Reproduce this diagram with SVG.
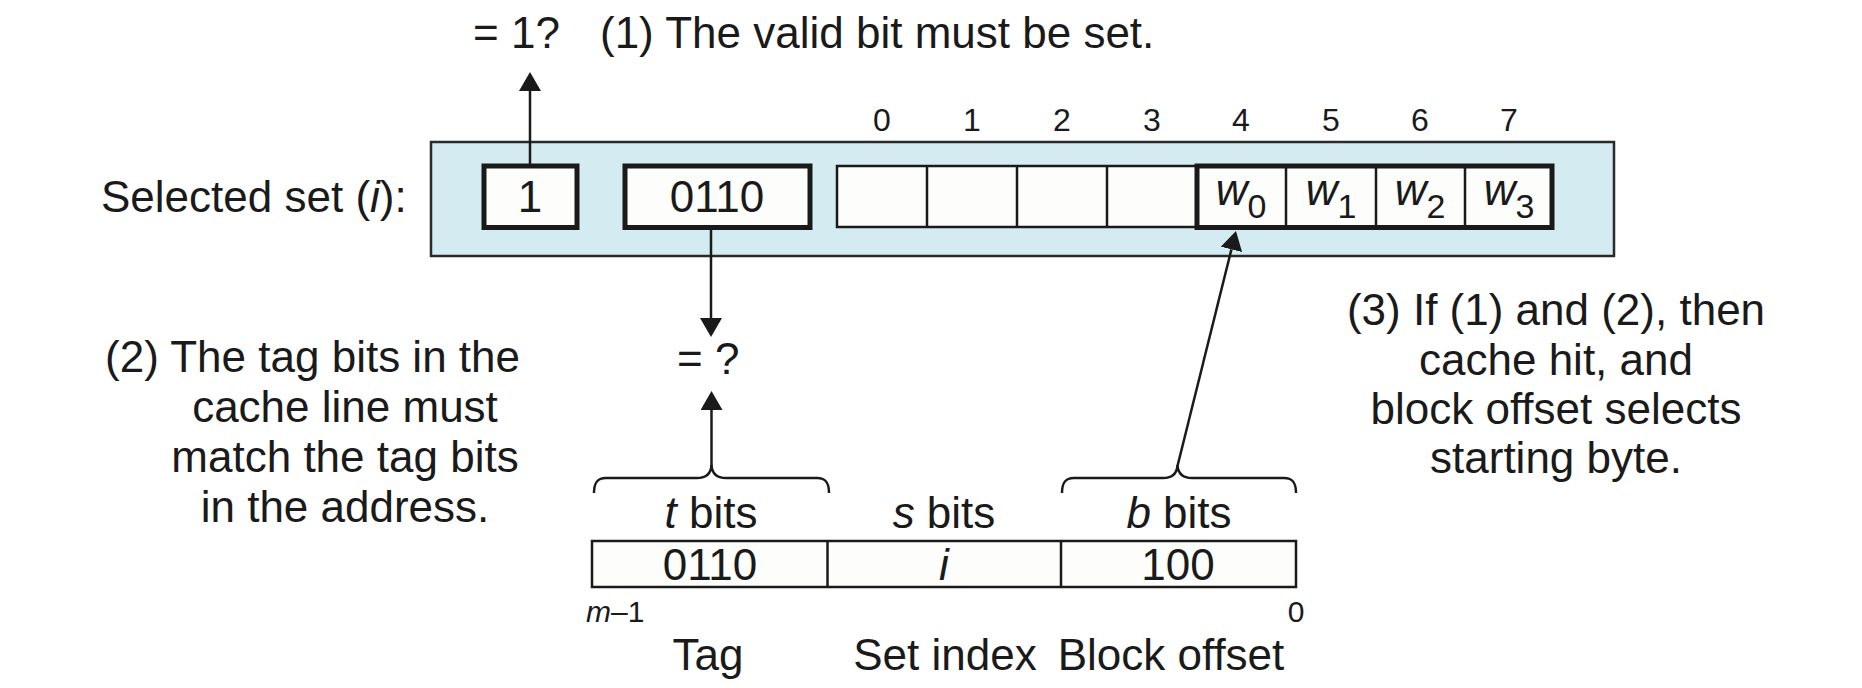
<svg xmlns="http://www.w3.org/2000/svg" width="1862" height="688" viewBox="0 0 1862 688">
<style>
text{font-family:"Liberation Sans",Arial,sans-serif;fill:#1a1a1a;font-size:44px}
.m{text-anchor:middle}
.e{text-anchor:end}
.idx{font-size:32px;text-anchor:middle}
.sm{font-size:30px}
.it{font-style:italic}
.thin{fill:#fdfdfb;stroke:#1a1a1a;stroke-width:2.5}
.thick{fill:#fdfdfb;stroke:#1a1a1a;stroke-width:5}
.ln{fill:none;stroke:#1a1a1a;stroke-width:2.5}
</style>
<defs>
<marker id="ah" markerUnits="userSpaceOnUse" viewBox="0 0 19 22" refX="0" refY="11" markerWidth="19" markerHeight="22" orient="auto">
<path d="M0,0 L19,11 L0,22 z" fill="#1a1a1a"/>
</marker>
</defs>

<g id="title">
<text x="473" y="48">= 1?</text>
<text x="600" y="48">(1) The valid bit must be set.</text>
</g>

<g id="indices">
<text class="idx" x="882" y="131">0</text>
<text class="idx" x="972" y="131">1</text>
<text class="idx" x="1062" y="131">2</text>
<text class="idx" x="1152" y="131">3</text>
<text class="idx" x="1241" y="131">4</text>
<text class="idx" x="1331" y="131">5</text>
<text class="idx" x="1420" y="131">6</text>
<text class="idx" x="1509" y="131">7</text>
</g>

<g id="selected-set">
<text x="101" y="212">Selected set (<tspan class="it">i</tspan>):</text>
<rect x="431" y="142" width="1183" height="114" fill="#d4ebf2" stroke="#2a2a2a" stroke-width="2.5"/>
</g>

<g id="valid-bit">
<rect class="thick" x="484" y="166" width="93" height="61.5"/>
<text class="m" x="530" y="212">1</text>
</g>

<g id="tag-field">
<rect class="thick" x="625" y="166" width="185" height="61.5"/>
<text class="m" x="717" y="212">0110</text>
</g>

<g id="block-cells">
<rect class="thin" x="837" y="166" width="360" height="61"/>
<line class="ln" x1="927" y1="166" x2="927" y2="227"/>
<line class="ln" x1="1017" y1="166" x2="1017" y2="227"/>
<line class="ln" x1="1107" y1="166" x2="1107" y2="227"/>
</g>

<g id="words">
<rect class="thick" x="1197" y="166" width="355" height="61.5"/>
<line class="ln" x1="1286" y1="166" x2="1286" y2="227"/>
<line class="ln" x1="1376" y1="166" x2="1376" y2="227"/>
<line class="ln" x1="1465" y1="166" x2="1465" y2="227"/>
<text class="m it" x="1241" y="205">w<tspan font-size="34" dy="13" font-style="normal">0</tspan></text>
<text class="m it" x="1331" y="205">w<tspan font-size="34" dy="13" font-style="normal">1</tspan></text>
<text class="m it" x="1420" y="205">w<tspan font-size="34" dy="13" font-style="normal">2</tspan></text>
<text class="m it" x="1509" y="205">w<tspan font-size="34" dy="13" font-style="normal">3</tspan></text>
</g>

<g id="note2">
<text class="e" x="520" y="372">(2) The tag bits in the</text>
<text class="m" x="345" y="422">cache line must</text>
<text class="m" x="345" y="472">match the tag bits</text>
<text class="m" x="345" y="522">in the address.</text>
</g>

<g id="compare">
<text x="677" y="374">= ?</text>
</g>

<g id="note3">
<text class="m" x="1556" y="325">(3) If (1) and (2), then</text>
<text class="m" x="1556" y="375">cache hit, and</text>
<text class="m" x="1556" y="424">block offset selects</text>
<text class="m" x="1556" y="473">starting byte.</text>
</g>

<g id="address">
<text class="m" x="711" y="528" font-size="42"><tspan class="it">t</tspan> bits</text>
<text class="m" x="944" y="528" font-size="42"><tspan class="it">s</tspan> bits</text>
<text class="m" x="1179" y="528" font-size="42"><tspan class="it">b</tspan> bits</text>
<rect class="thin" x="592" y="541" width="704" height="46"/>
<line class="ln" x1="827.5" y1="541" x2="827.5" y2="587"/>
<line class="ln" x1="1061" y1="541" x2="1061" y2="587"/>
<text class="m" x="710" y="580" font-size="42">0110</text>
<text class="m it" x="944" y="580" font-size="42">i</text>
<text class="m" x="1178" y="580" font-size="42">100</text>
<text class="sm" x="586" y="622"><tspan class="it">m</tspan>–1</text>
<text class="sm m" x="1296" y="622">0</text>
<text class="m" x="708" y="670">Tag</text>
<text class="m" x="945" y="670">Set index</text>
<text class="m" x="1171" y="670">Block offset</text>
</g>

<g id="connectors">
<line class="ln" x1="530" y1="165" x2="530" y2="91" marker-end="url(#ah)"/>
<line class="ln" x1="711" y1="229" x2="711" y2="318" marker-end="url(#ah)"/>
<path class="ln" d="M594,493 C594,483 597,478 606,478 L697,478 C706,478 711,474 711.5,465 C712,474 717,478 726,478 L817,478 C826,478 829,483 829,493"/>
<line class="ln" x1="711.5" y1="466" x2="711.5" y2="410" marker-end="url(#ah)"/>
<path class="ln" d="M1062,493 C1062,483 1065,478 1074,478 L1163,478 C1172,478 1177,474 1177.5,465 C1178,474 1183,478 1192,478 L1284,478 C1293,478 1296,483 1296,493"/>
<line class="ln" x1="1177.5" y1="466" x2="1231.4" y2="249.4" marker-end="url(#ah)"/>
</g>
</svg>
